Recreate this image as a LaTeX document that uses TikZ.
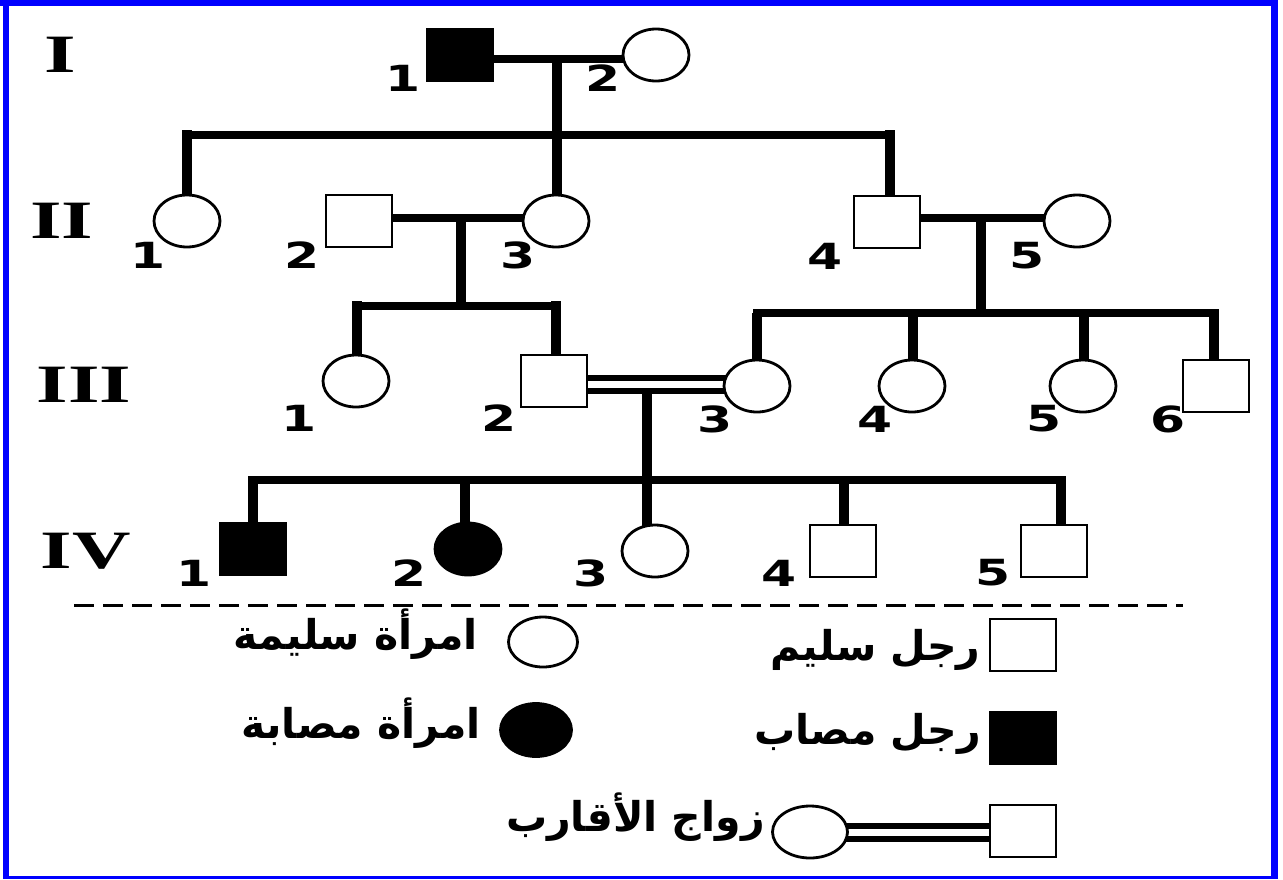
\documentclass[tikz,border=0pt]{standalone}
\usepackage{fontspec}
\usetikzlibrary{shapes.geometric}
\TeXXeTstate=1
\newfontfamily\arabicfont[Script=Arabic]{DejaVu Sans}
\newfontfamily\numfont{DejaVu Sans}
\newfontfamily\romfont{Liberation Serif}
\definecolor{frameblue}{RGB}{0,0,255}
\pgfdeclarelayer{bg}
\pgfsetlayers{bg,main}
\begin{document}
\begin{tikzpicture}[x=0.5pt,y=-0.5pt,
  ind/.style={inner sep=0pt, outer sep=0pt, line width=1.4pt, draw=black, fill=white},
  male/.style={ind, rectangle, minimum width=33pt, minimum height=26pt},
  female/.style={ind, ellipse, minimum width=33pt, minimum height=26pt},
  aff/.style={fill=black},
  hline/.style={line width=3.6pt, line cap=rect},
  vline/.style={line width=5pt},
  desc/.style={line width=5pt},
  cline/.style={line width=2.8pt},
  num/.style={inner sep=0pt, font=\numfont\bfseries\fontsize{18}{18}\selectfont},
  gen/.style={inner sep=0pt, font=\romfont\bfseries\fontsize{27}{27}\selectfont},
  leg/.style={inner sep=0pt, anchor=base east, font=\arabicfont\bfseries\fontsize{20.5}{20.5}\selectfont},
  dashline/.style={line width=1.5pt, dash pattern=on 10pt off 4.5pt}
]
\useasboundingbox (0,0) rectangle (1283,879);
% frame
\fill[frameblue] (0,0) rectangle (1278,6);
\fill[frameblue] (3,0) rectangle (9,879);
\fill[frameblue] (1271,0) rectangle (1278,879);
\fill[frameblue] (3,876) rectangle (1278,879);

% generation labels
\node[gen] (gI) at (60,55) {\scalebox{1.5}[1]{I}};
\node[gen] (gII) at (62,221) {\scalebox{1.5}[1]{II}};
\node[gen] (gIII) at (84,385) {\scalebox{1.5}[1]{III}};
\node[gen] (gIV) at (86,551) {\scalebox{1.5}[1]{IV}};

% individuals
\node[male,aff] (I1) at (460,55) {};
\node[female] (I2) at (656,55) {};
\node[female] (II1) at (187,221) {};
\node[male] (II2) at (359,221) {};
\node[female] (II3) at (556,221) {};
\node[male] (II4) at (887,222) {};
\node[female] (II5) at (1077,221) {};
\node[female] (III1) at (356,381) {};
\node[male] (III2) at (554,381) {};
\node[female] (III3) at (757,386) {};
\node[female] (III4) at (912,386) {};
\node[female] (III5) at (1083,386) {};
\node[male] (III6) at (1216,386) {};
\node[male,aff] (IV1) at (253,549) {};
\node[female,aff] (IV2) at (468,549) {};
\node[female] (IV3) at (655,551) {};
\node[male] (IV4) at (843,551) {};
\node[male] (IV5) at (1054,551) {};

% junction points
\coordinate (mI) at (557,59);
\coordinate (sIIl) at (187,135);
\coordinate (sIIr) at (890,135);
\coordinate (mII) at (461,218);
\coordinate (sIIIa) at (461,306);
\coordinate (sIIIal) at (357,306);
\coordinate (sIIIar) at (556,306);
\coordinate (mIIb) at (981,218);
\coordinate (sIIIb) at (981,313);
\coordinate (sIIIbl) at (757,313);
\coordinate (dIII4) at (913,313);
\coordinate (dIII5) at (1084,313);
\coordinate (sIIIbr) at (1214,313);
\coordinate (c1) at (647,378);
\coordinate (c2) at (647,391);
\coordinate (sIVl) at (253,480);
\coordinate (dIV2) at (465,480);
\coordinate (dIV4) at (844,480);
\coordinate (sIVr) at (1061,480);

\begin{pgfonlayer}{bg}
% generation I
\draw[hline] (I1 |- mI) -- (I2 |- mI);
\draw[desc] (mI) -- (mI |- II3.center);
\draw[hline] (sIIl) -- (sIIr);
\draw[vline] ([yshift=2.5pt]sIIl) -- (II1.center);
\draw[vline] ([yshift=2.5pt]sIIr) -- (sIIr |- II4.center);
% II2 x II3
\draw[hline] (II2 |- mII) -- (II3 |- mII);
\draw[desc] (mII) -- ([yshift=-1.5pt]sIIIa);
\draw[hline] (sIIIal) -- (sIIIar);
\draw[vline] ([yshift=2.5pt]sIIIal) -- (sIIIal |- III1.center);
\draw[vline] ([yshift=2.5pt]sIIIar) -- (sIIIar |- III2.center);
% II4 x II5
\draw[hline] (II4 |- mIIb) -- (II5 |- mIIb);
\draw[desc] (mIIb) -- (sIIIb);
\draw[hline] (sIIIbl) -- (sIIIbr);
\draw[vline] (sIIIbl) -- (sIIIbl |- III3.center);
\draw[vline] (dIII4) -- (dIII4 |- III4.center);
\draw[vline] (dIII5) -- (dIII5 |- III5.center);
\draw[vline] ([yshift=2pt]sIIIbr) -- (sIIIbr |- III6.center);
% consanguineous marriage III2 = III3
\draw[cline] (III2 |- c1) -- (III3 |- c1);
\draw[cline] (III2 |- c2) -- (III3 |- c2);
\draw[desc] (c2) -- (c2 |- IV3.center);
\draw[hline] (sIVl) -- (sIVr);
\draw[vline] ([yshift=2pt]sIVl) -- (sIVl |- IV1.center);
\draw[vline] (dIV2) -- (dIV2 |- IV2.center);
\draw[vline] (dIV4) -- (dIV4 |- IV4.center);
\draw[vline] ([yshift=2pt]sIVr) -- (sIVr |- IV5.center);
\end{pgfonlayer}

% numbers
\node[num] (nI1) at (403,78) {\scalebox{1.4}[1]{1}};
\node[num] (nI2) at (603,78) {\scalebox{1.4}[1]{2}};
\node[num] (nII1) at (148,255) {\scalebox{1.4}[1]{1}};
\node[num] (nII2) at (302,255) {\scalebox{1.4}[1]{2}};
\node[num] (nII3) at (518,255) {\scalebox{1.4}[1]{3}};
\node[num] (nII4) at (825,256) {\scalebox{1.4}[1]{4}};
\node[num] (nII5) at (1027,256) {\scalebox{1.4}[1]{5}};
\node[num] (nIII1) at (299,418) {\scalebox{1.4}[1]{1}};
\node[num] (nIII2) at (499,418) {\scalebox{1.4}[1]{2}};
\node[num] (nIII3) at (715,419) {\scalebox{1.4}[1]{3}};
\node[num] (nIII4) at (875,419) {\scalebox{1.4}[1]{4}};
\node[num] (nIII5) at (1044,419) {\scalebox{1.4}[1]{5}};
\node[num] (nIII6) at (1168,419) {\scalebox{1.4}[1]{6}};
\node[num] (nIV1) at (194,573) {\scalebox{1.4}[1]{1}};
\node[num] (nIV2) at (409,573) {\scalebox{1.4}[1]{2}};
\node[num] (nIV3) at (591,573) {\scalebox{1.4}[1]{3}};
\node[num] (nIV4) at (779,573) {\scalebox{1.4}[1]{4}};
\node[num] (nIV5) at (993,573) {\scalebox{1.4}[1]{5}};

% separator
\coordinate (dl) at (74,605);
\coordinate (dr) at (1183,605);
\draw[dashline] (dl) -- (dr);

% legend
\node[female, minimum width=34.5pt, minimum height=25pt] (LWh) at (543,642) {};
\node[female, aff, minimum width=35.5pt, minimum height=26.5pt] (LWa) at (536,730) {};
\node[female, minimum width=37.5pt, minimum height=26pt] (LWc) at (810,832) {};
\node[male] (LMh) at (1023,645) {};
\node[male, aff] (LMa) at (1023,738) {};
\node[male] (LMc) at (1023,831) {};
\coordinate (lc1) at (930,826);
\coordinate (lc2) at (930,839);
\begin{pgfonlayer}{bg}
\draw[cline] (LWc |- lc1) -- (LMc |- lc1);
\draw[cline] (LWc |- lc2) -- (LMc |- lc2);
\end{pgfonlayer}
\node[leg] (tWh) at (478,649) {\beginR امرأة سليمة\endR};
\node[leg] (tWa) at (481,738) {\beginR امرأة مصابة\endR};
\node[leg] (tMh) at (981,660) {\beginR رجل سليم\endR};
\node[leg] (tMa) at (981,744) {\beginR رجل مصاب\endR};
\node[leg] (tMc) at (765,831) {\beginR زواج الأقارب\endR};
\end{tikzpicture}
\end{document}
